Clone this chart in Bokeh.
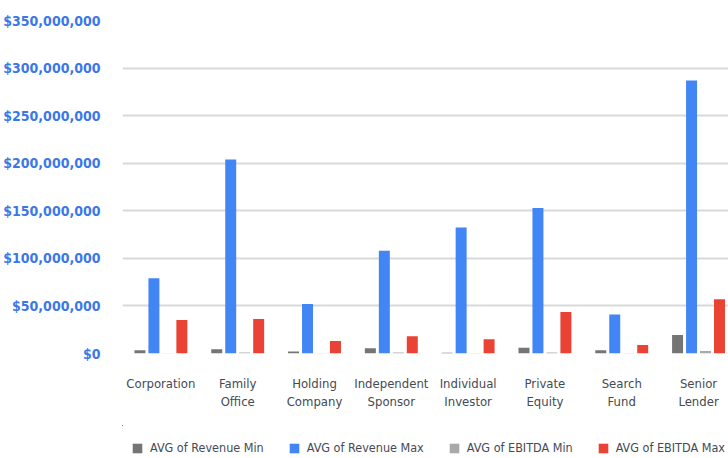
import numpy as np
from bokeh.plotting import figure
from bokeh.layouts import column
from bokeh.models import FixedTicker, Legend, LegendItem, Range1d, NumeralTickFormatter
from bokeh.embed import file_html
from bokeh.resources import INLINE

categories = ["Corporation", "Family\nOffice", "Holding\nCompany", "Independent\nSponsor",
              "Individual\nInvestor", "Private\nEquity", "Search\nFund", "Senior\nLender"]
series_names = ["AVG of Revenue Min", "AVG of Revenue Max", "AVG of EBITDA Min", "AVG of EBITDA Max"]
rev_min = [3.4e6, 4.4e6, 2.2e6, 5.5e6, 0.9e6, 6.0e6, 3.4e6, 19.5e6]
rev_max = [79e6, 204e6, 52e6, 108e6, 132.5e6, 153e6, 41e6, 287e6]
ebitda_min = [0.3e6, 1.0e6, 0.3e6, 1.0e6, 0.3e6, 1.0e6, 0.3e6, 2.6e6]
ebitda_max = [35.3e6, 36.3e6, 13.2e6, 18.1e6, 14.9e6, 43.7e6, 8.9e6, 57e6]
y_ticks = [0, 50e6, 100e6, 150e6, 200e6, 250e6, 300e6, 350e6]

colors = ["#757575", "#4285F4", "#A9A9A9", "#EA4335"]
FONT = "'Liberation Sans Narrow', 'DejaVu Sans Condensed', 'Roboto', sans-serif"

p = figure(width=728, height=425, output_backend="svg", toolbar_location=None,
           x_range=Range1d(-0.5, 7.39), y_range=Range1d(0, 350e6),
           min_border_left=122, min_border_right=0, min_border_top=20, min_border_bottom=72)
p.outline_line_color = None
p.background_fill_color = "white"
p.border_fill_color = "white"

x = np.arange(len(categories))
offsets = [-0.273, -0.091, 0.091, 0.273]
all_vals = [rev_min, rev_max, ebitda_min, ebitda_max]
for vals, off, col in zip(all_vals, offsets, colors):
    p.vbar(x=x + off, top=vals, width=0.143, bottom=0, fill_color=col, line_color=None)

p.xaxis.ticker = FixedTicker(ticks=list(range(len(categories))))
p.xaxis.major_label_overrides = {i: c for i, c in enumerate(categories)}
p.xaxis.axis_line_color = None
p.xaxis.major_tick_line_color = None
p.xaxis.minor_tick_line_color = None
p.xaxis.major_label_text_font = FONT
p.xaxis.major_label_text_font_size = "13px"
p.xaxis.major_label_text_color = "#444a55"
p.xaxis.major_label_standoff = 16

p.yaxis.ticker = FixedTicker(ticks=y_ticks)
p.yaxis.formatter = NumeralTickFormatter(format="$0,0")
p.yaxis.axis_line_color = None
p.yaxis.major_tick_line_color = None
p.yaxis.minor_tick_line_color = None
p.yaxis.major_label_text_font = FONT
p.yaxis.major_label_text_font_style = "bold"
p.yaxis.major_label_text_font_size = "14px"
p.yaxis.major_label_text_color = "#3b78e7"
p.yaxis.major_label_standoff = 16

p.xgrid.grid_line_color = None
p.ygrid.grid_line_color = "#d9d9d9"
p.ygrid.grid_line_width = 2

# legend strip below the chart (same series, kept outside this strip's visible ranges)
p2 = figure(width=728, height=33, output_backend="svg", toolbar_location=None,
            x_axis_location=None, y_axis_location=None, min_border=0,
            x_range=Range1d(100, 101), y_range=Range1d(-2, -1))
p2.outline_line_color = None
p2.grid.grid_line_color = None
items = []
for vals, off, col, name in zip(all_vals, offsets, colors, series_names):
    r = p2.vbar(x=x + off, top=vals, width=0.143, bottom=0, fill_color=col, line_color=None)
    items.append(LegendItem(label=name, renderers=[r]))
legend = Legend(items=items, orientation="horizontal", location=(9, 3),
                glyph_width=12, glyph_height=12, label_standoff=7, spacing=24,
                padding=0, margin=0, border_line_color=None, background_fill_alpha=0,
                label_text_font=FONT, label_text_font_size="12.5px", label_text_color="#444a55")
p2.add_layout(legend, "center")

layout = column(p, p2, spacing=0)
open("out.html", "w").write(file_html(layout, INLINE))
